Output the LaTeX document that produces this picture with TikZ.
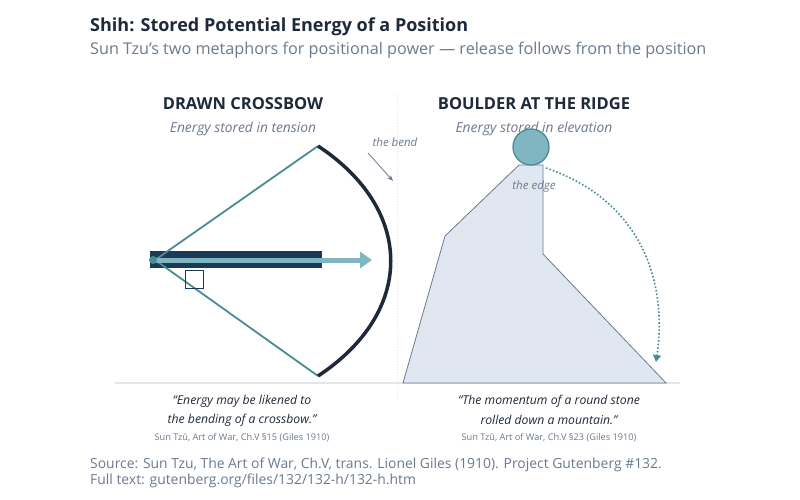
\documentclass[tikz,border=0pt]{standalone}
\usepackage{fontspec}
\setmainfont{Open Sans}
\usetikzlibrary{arrows.meta}
\definecolor{navy}{HTML}{1B3A57}
\definecolor{ink}{HTML}{1E2A3A}
\definecolor{teal}{HTML}{4A8C96}
\definecolor{lteal}{HTML}{7FB6C2}
\definecolor{slate}{HTML}{6B7A90}
\definecolor{fillg}{HTML}{E0E7F0}
\definecolor{rule}{HTML}{E2E6EC}
\tikzset{
 title/.style={anchor=west,font=\fontsize{18}{20}\selectfont\bfseries,text=ink,inner sep=0},
 sub/.style={anchor=west,font=\fontsize{16.2}{18}\selectfont,text=slate,inner sep=0},
 head/.style={font=\fontsize{16.5}{18}\selectfont\bfseries,text=ink,inner sep=0},
 shead/.style={font=\fontsize{13.8}{16}\selectfont\itshape,text=slate,inner sep=0},
 quote/.style={font=\fontsize{12.2}{14}\selectfont\itshape,text=ink,inner sep=0},
 cite/.style={font=\fontsize{9.2}{11}\selectfont,text=slate,inner sep=0},
 lab/.style={font=\fontsize{11.5}{13}\selectfont\itshape,text=slate,inner sep=0},
 src/.style={anchor=west,font=\fontsize{13.9}{16}\selectfont,text=slate,inner sep=0},
}
\begin{document}
\begin{tikzpicture}[x=1pt,y=-1pt]
\useasboundingbox[fill=white] (0,0) rectangle (800,500);
\node[title] (t) at (90,27) {Shih: Stored Potential Energy of a Position};
\node[sub] (s) at (90,50) {Sun Tzu's two metaphors for positional power — release follows from the position};
% dividers
\draw[rule,dotted,thick] (397,95) -- (397,400);
\draw[rule,line width=1.2pt] (115,383) -- (680,383);
% crossbow
\node[head] (h1) at (243,104) {DRAWN CROSSBOW};
\node[shead] (sh1) at (243,129) {Energy stored in tension};
\fill[navy] (150,251) rectangle (322,268);
\coordinate (nock) at (155,260);
\coordinate (tip1) at (318,146);
\coordinate (tip2) at (318,376);
\draw[teal,line width=1.8pt] (tip1) -- (nock) -- (tip2);
\draw[ink,line width=3.5pt] (tip1) .. controls (415,210) and (415,312) .. (tip2);
\draw[navy,line width=1pt] (185,270) rectangle (203,288);
\coordinate (a0) at (152,260);
\coordinate (a1) at (372,260);
\draw[lteal,line width=5pt,-{Triangle[length=12pt,width=16pt]}] (a0) -- (a1);
\fill[teal] (153,260) circle (4);
\node[lab] (bend) at (395,142) {the bend};
\coordinate (b0) at (368,153);
\coordinate (b1) at (393,181);
\draw[slate,line width=0.8pt,-{Stealth[length=6pt]}] (b0) -- (b1);
\node[quote] (q1) at (242,401) {“Energy may be likened to};
\node[quote] (q1b) at (242,420) {the bending of a crossbow.”};
\node[cite] (c1) at (242,438) {Sun Tzŭ, Art of War, Ch.V §15 (Giles 1910)};
% boulder
\node[head] (h2) at (534,104) {BOULDER AT THE RIDGE};
\node[shead] (sh2) at (534,129) {Energy stored in elevation};
\draw[slate,fill=fillg,line width=0.8pt] (403,383) -- (445,236) -- (519,165) -- (543,165) -- (543,254) -- (666,383) -- cycle;
\node[circle,draw=teal,fill=lteal,line width=1.3pt,minimum size=36pt,inner sep=0] (ball) at (531,147) {};
\node[lab] (edge) at (534,187) {the edge};
\coordinate (d0) at (546,168);
\coordinate (d1) at (656,362);
\draw[teal,line width=1.6pt,dotted,-{Triangle[length=7pt,width=8pt]}] (d0) .. controls (640,200) and (668,280) .. (d1);
\node[quote] (q2) at (549,401) {“The momentum of a round stone};
\node[quote] (q2b) at (549,420) {rolled down a mountain.”};
\node[cite] (c2) at (549,438) {Sun Tzŭ, Art of War, Ch.V §23 (Giles 1910)};
\node[src] (s1) at (90,465) {Source: Sun Tzu, The Art of War, Ch.V, trans. Lionel Giles (1910). Project Gutenberg \#132.};
\node[src] (s2) at (90,481) {Full text: gutenberg.org/files/132/132-h/132-h.htm};
\end{tikzpicture}
\end{document}
